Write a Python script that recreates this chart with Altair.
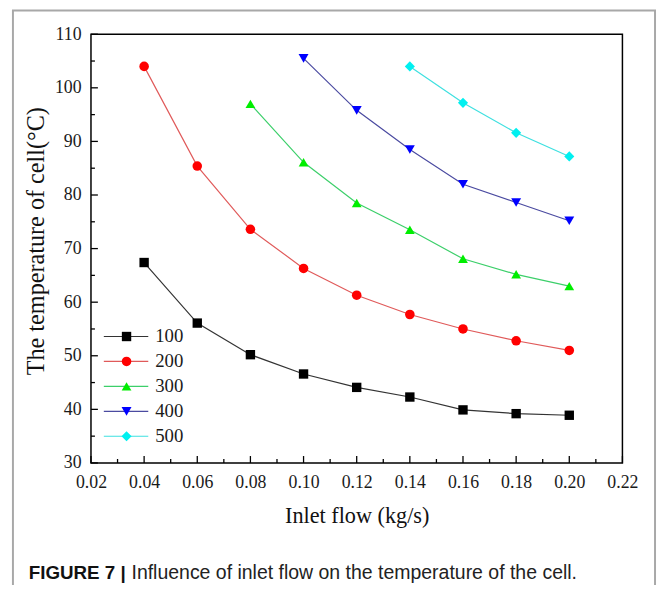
import altair as alt
import pandas as pd

# ---- data ----
flows = [0.04, 0.06, 0.08, 0.10, 0.12, 0.14, 0.16, 0.18, 0.20]
t100 = [67.4, 56.1, 50.2, 46.6, 44.1, 42.3, 39.9, 39.2, 38.9]
t200 = [104.0, 85.4, 73.6, 66.3, 61.3, 57.7, 55.0, 52.8, 51.0]
t300 = [97.0, 86.1, 78.5, 73.5, 68.1, 65.2, 63.0]          # from 0.08
t400 = [105.5, 95.8, 88.5, 82.0, 78.6, 75.2]                # from 0.10
t500 = [104.0, 97.2, 91.6, 87.2]                            # from 0.14

series = ["100", "200", "300", "400", "500"]
series_values = [t100, t200, t300, t400, t500]

marker_colors = ["#000000", "#ff0000", "#00ee00", "#0000ff", "#00f0f0"]
line_colors = ["#333333", "#e05a5a", "#3ccf6a", "#4a4aa0", "#3ee0e0"]
shapes = ["square", "circle", "triangle-up", "triangle-down", "diamond"]
marker_sizes = [90, 105, 125, 125, 150]

x_major = [0.02, 0.04, 0.06, 0.08, 0.10, 0.12, 0.14, 0.16, 0.18, 0.20, 0.22]
x_minor = [0.03, 0.05, 0.07, 0.09, 0.11, 0.13, 0.15, 0.17, 0.19, 0.21]
y_major = [30, 40, 50, 60, 70, 80, 90, 100, 110]
y_minor = [35, 45, 55, 65, 75, 85, 95, 105]

x_title = "Inlet flow (kg/s)"
y_title = "The temperature of cell(°C)"
caption_bold = ["FIGURE 7 |"]
caption_text = ["Influence of inlet flow on the temperature of the cell."]

# ---- tables ----
rows = []
for s, vals in zip(series, series_values):
    fl = flows[len(flows) - len(vals):]
    for f, v in zip(fl, vals):
        rows.append({"flow": f, "temp": v, "series": s})
df = pd.DataFrame(rows)

W, H = 538, 434
SERIF = "Liberation Serif"
SANS = "Liberation Sans"

xs = alt.Scale(domain=[0.02, 0.22], nice=False, zero=False)
ys = alt.Scale(domain=[30, 110], nice=False, zero=False)
stroke_scale = alt.Scale(domain=series, range=line_colors)
fill_scale = alt.Scale(domain=series, range=marker_colors)
shape_scale = alt.Scale(domain=series, range=shapes)
size_scale = alt.Scale(domain=series, range=marker_sizes)

x_axis = alt.Axis(values=x_major, format=".2f", title=x_title, ticks=False, domain=False,
                  grid=False, labelFont=SERIF, labelFontSize=18, labelColor="#1a1a1a",
                  labelPadding=11, labelFlush=False, labelOverlap=False,
                  titleFont=SERIF, titleFontSize=22.5,
                  titleFontWeight="normal", titleColor="#111", titlePadding=13)
y_axis = alt.Axis(values=y_major, format="d", title=y_title, ticks=False, domain=False,
                  grid=False, labelFont=SERIF, labelFontSize=18, labelColor="#1a1a1a",
                  labelPadding=10, labelFlush=False, labelOverlap=False,
                  titleFont=SERIF, titleFontSize=24.5, titleY=209,
                  titleFontWeight="normal", titleColor="#111", titlePadding=6)

base = alt.Chart(df)
lines = base.mark_line(strokeWidth=1.2).encode(
    x=alt.X("flow:Q", scale=xs, axis=x_axis),
    y=alt.Y("temp:Q", scale=ys, axis=y_axis),
    stroke=alt.Stroke("series:N", scale=stroke_scale, legend=None),
)
points = base.mark_point(filled=True, opacity=1).encode(
    x=alt.X("flow:Q", scale=xs, axis=x_axis),
    y=alt.Y("temp:Q", scale=ys, axis=y_axis),
    fill=alt.Fill("series:N", scale=fill_scale, legend=None),
    shape=alt.Shape("series:N", scale=shape_scale, legend=None),
    size=alt.Size("series:N", scale=size_scale, legend=None),
)

def xticks(vals, length):
    return alt.Chart(pd.DataFrame({"flow": vals})).mark_rule(color="black", strokeWidth=1.3).encode(
        x=alt.X("flow:Q", scale=xs, axis=x_axis), y=alt.value(H), y2=alt.value(H - length))

def yticks(vals, length):
    return alt.Chart(pd.DataFrame({"temp": vals})).mark_rule(color="black", strokeWidth=1.3).encode(
        y=alt.Y("temp:Q", scale=ys, axis=y_axis), x=alt.value(0), x2=alt.value(length))

frame = alt.Chart(pd.DataFrame({"k": [0]})).mark_rect(
    fillOpacity=0, stroke="#a8a8a8", strokeWidth=2).encode(
    x=alt.value(-79), x2=alt.value(571), y=alt.value(-24), y2=alt.value(600))

cap1 = alt.Chart(pd.DataFrame({"t": caption_bold})).mark_text(
    align="left", baseline="middle", font=SANS, fontSize=19,
    fontWeight="bold", color="#111").encode(x=alt.value(-63), y=alt.value(545), text="t:N")
cap2 = alt.Chart(pd.DataFrame({"t": caption_text})).mark_text(
    align="left", baseline="middle", font=SANS, fontSize=19.7,
    color="#222").encode(x=alt.value(41), y=alt.value(545), text="t:N")

inner = alt.layer(lines, points, xticks(x_major, 7), xticks(x_minor, 4),
                  yticks(y_major, 7), yticks(y_minor, 4), frame, cap1, cap2)

# ---- legend drawn inside the plot ----
legdf = pd.DataFrame({"series": series, "row": list(range(len(series)))})
ly = alt.Y("row:Q", scale=alt.Scale(domain=[0, len(series) - 1], range=[306, 407]), axis=None)
leg_rule = alt.Chart(legdf).mark_rule(strokeWidth=1.2).encode(
    x=alt.value(13), x2=alt.value(58), y=ly,
    stroke=alt.Stroke("series:N", scale=stroke_scale, legend=None))
leg_pt = alt.Chart(legdf).mark_point(filled=True, opacity=1).encode(
    x=alt.value(36), y=ly,
    fill=alt.Fill("series:N", scale=fill_scale, legend=None),
    shape=alt.Shape("series:N", scale=shape_scale, legend=None),
    size=alt.Size("series:N", scale=size_scale, legend=None))
leg_txt = alt.Chart(legdf).mark_text(align="left", baseline="middle", font=SERIF,
                                     fontSize=19, color="#1a1a1a").encode(
    x=alt.value(65), y=ly, text="series:N")
legend = alt.layer(leg_rule, leg_pt, leg_txt)

chart = alt.layer(inner, legend).resolve_scale(y="independent").properties(
    width=W, height=H,
    autosize=alt.AutoSizeParams(type="none"),
    padding={"left": 84, "top": 23, "right": 35, "bottom": 120},
).configure_view(stroke="black", strokeWidth=1.5)

chart.save("out.html", embed_options={"renderer": "svg", "actions": False})
